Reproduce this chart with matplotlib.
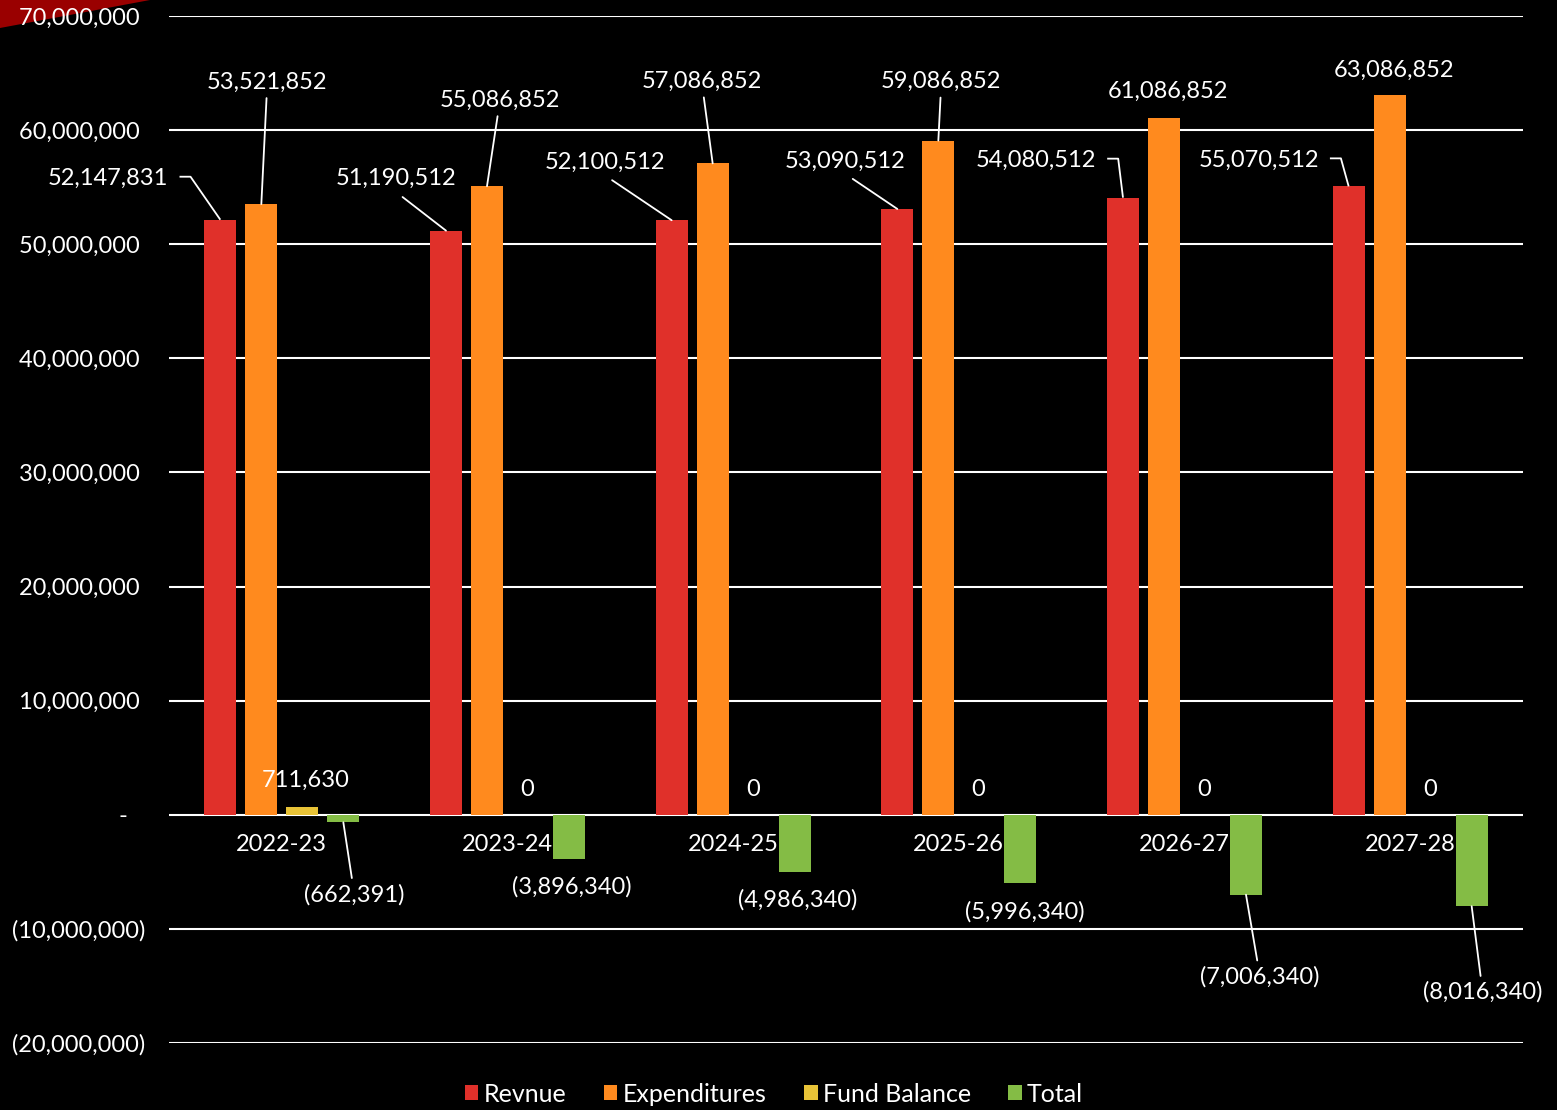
import numpy as np
import matplotlib
matplotlib.use('Agg')
import matplotlib.pyplot as plt
from matplotlib.patches import Polygon
from matplotlib.ticker import FuncFormatter, MultipleLocator

plt.rcParams['font.family'] = ['Lato', 'DejaVu Sans']

years = ['2022-23', '2023-24', '2024-25', '2025-26', '2026-27', '2027-28']
series = ['Revnue', 'Expenditures', 'Fund Balance', 'Total']
revenue = [52147831, 51190512, 52100512, 53090512, 54080512, 55070512]
expenditures = [53521852, 55086852, 57086852, 59086852, 61086852, 63086852]
fund_balance = [711630, 0, 0, 0, 0, 0]
total = [-662391, -3896340, -4986340, -5996340, -7006340, -8016340]
colors = ['#E0302A', '#FF8A1E', '#E8C337', '#84BC45']

# label offsets from the bar end, in pixels (x right, y up)
lab_dx = [[-112, -50, -67, -52, -87, -90],
          [6, 13, -11, 3, 4, 4],
          [3, -1, -1, -1, -1, -1],
          [11, 3, 3, 4, 14, 11]]
lab_dy = [[41, 52, 58, 48, 37, 26],
          [122, 86, 82, 59, 26, 25],
          [26, 25, 25, 25, 25, 25],
          [-72, -28, -28, -29, -82, -86]]
# revenue labels whose leader starts with a short horizontal tick
bent = [True, False, False, False, True, True]


def money(v):
    if v == 0:
        return '-   '
    if v < 0:
        return f'({-v:,.0f})'
    return f'{v:,.0f} '


def datalabel(v):
    return f'({-v:,.0f})' if v < 0 else f'{v:,.0f}'


fig = plt.figure(figsize=(15.57, 11.10), dpi=100, facecolor='black')
ax = fig.add_axes([169 / 1557, 67 / 1110, (1523 - 169) / 1557, (1043 - 16) / 1110])
ax.set_facecolor('black')

fig.add_artist(Polygon([(0, 1), (150 / 1557, 1), (0, 1 - 28 / 1110)],
                       closed=True, transform=fig.transFigure,
                       fc='#9a0000', ec='none', zorder=-5))

x = np.arange(len(years))
step, width = 0.1817, 0.142
data = [revenue, expenditures, fund_balance, total]
bent_labels = []
for i, (name, vals, c) in enumerate(zip(series, data, colors)):
    xs = x + (i - 1.5) * step
    ax.bar(xs, vals, width, color=c, label=name, zorder=3)
    for j, (xx, v) in enumerate(zip(xs, vals)):
        dx, dy = lab_dx[i][j], lab_dy[i][j]
        arrow = None
        if np.hypot(dx, dy) > 40 and not (i == 0 and bent[j]):
            rel = (0.47, 0) if i == 0 else (0.5, 0.5)
            arrow = dict(arrowstyle='-', color='white', lw=1.3,
                         shrinkA=6 if i == 0 else 2, shrinkB=0, relpos=rel)
        t = ax.annotate(datalabel(v), (xx, v), xytext=(dx, dy),
                        textcoords='offset pixels', ha='center', va='center',
                        color='white', fontsize=17, arrowprops=arrow, zorder=5)
        if i == 0 and bent[j]:
            bent_labels.append((t, xx, v))

for g, yr in enumerate(years):
    ax.annotate(yr, (g, 0), xytext=(0, -30), textcoords='offset pixels',
                ha='center', va='center', color='white', fontsize=17, zorder=4)

ax.set_xlim(-0.5, len(years) - 0.5)
ax.set_ylim(-20_000_000, 70_000_000)
ax.yaxis.set_major_locator(MultipleLocator(10_000_000))
ax.yaxis.set_major_formatter(FuncFormatter(lambda v, p: money(v)))
ax.grid(axis='y', color='white', lw=1.5, zorder=1)
ax.set_xticks([])
ax.tick_params(axis='y', length=0, pad=17, labelsize=17, labelcolor='white')
for s in ax.spines.values():
    s.set_visible(False)

fig.legend(loc='center', bbox_to_anchor=(0.497, 16 / 1110), ncol=4,
           frameon=False, fontsize=18, labelcolor='white',
           handlelength=0.55, handleheight=0.55, handletextpad=0.2,
           columnspacing=1.5)

# leader lines with a short horizontal tick, like the spreadsheet draws them
fig.canvas.draw()
inv = ax.transData.inverted()
for t, xx, v in bent_labels:
    bb = t.get_window_extent()
    yc = (bb.y0 + bb.y1) / 2 + 2
    p0 = (bb.x1 + 11, yc)
    p1 = (bb.x1 + 22, yc)
    p2 = tuple(ax.transData.transform((xx, v)))
    pts = inv.transform([p0, p1, p2])
    ax.plot(pts[:, 0], pts[:, 1], color='white', lw=1.3, zorder=5,
            solid_capstyle='butt', clip_on=False)

fig.savefig('out.png', dpi=100, facecolor='black')
